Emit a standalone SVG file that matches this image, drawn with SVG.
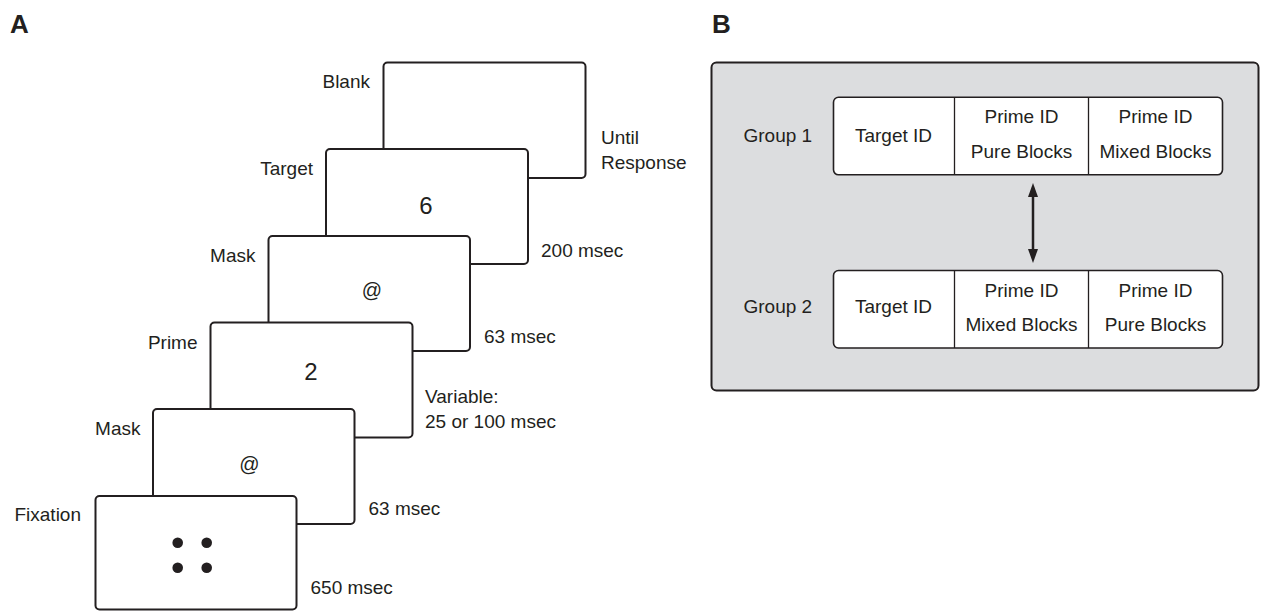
<svg xmlns="http://www.w3.org/2000/svg" width="1261" height="611" viewBox="0 0 1261 611">
<style>
.bg{fill:#ffffff}
.box{fill:#ffffff;stroke:#231f20;stroke-width:2}
.panel{fill:#dcdddf;stroke:#231f20;stroke-width:2}
.row{fill:#ffffff;stroke:#231f20;stroke-width:1.6}
.div{stroke:#231f20;stroke-width:1.3}
.t{font-family:"Liberation Sans",Arial,sans-serif;font-size:19px;fill:#231f20}
.big{font-size:24px}
.at{font-size:20px}
.hd{font-family:"Liberation Sans",Arial,sans-serif;font-size:26px;font-weight:bold;fill:#231f20}
.c{text-anchor:middle}
.e{text-anchor:end}
.dot{fill:#231f20}
.arr{stroke:#231f20;stroke-width:2.5;fill:none}
</style>
<defs>
<marker id="ah" viewBox="0 0 14 10" refX="0" refY="5" markerWidth="14" markerHeight="10" markerUnits="userSpaceOnUse" orient="auto-start-reverse">
<path d="M0,0 L14,5 L0,10 z" fill="#231f20"/>
</marker>
</defs>
<rect class="bg" x="0" y="0" width="1261" height="611"/>

<text class="hd" x="10" y="33">A</text>
<text class="hd" x="712" y="33">B</text>

<!-- Panel A: trial sequence, back to front -->
<g id="blank">
<rect class="box" x="383.5" y="62.5" width="202" height="115.5" rx="4"/>
<text class="t e" x="370" y="88">Blank</text>
<text class="t" x="601" y="144">Until</text>
<text class="t" x="601" y="169">Response</text>
</g>
<g id="target">
<rect class="box" x="326" y="149" width="202" height="115" rx="4"/>
<text class="t e" x="313" y="175">Target</text>
<text class="t big c" x="426" y="214">6</text>
<text class="t" x="541" y="257">200 msec</text>
</g>
<g id="mask1">
<rect class="box" x="268.5" y="236" width="201.5" height="115" rx="4"/>
<text class="t e" x="255.5" y="262">Mask</text>
<text class="t at c" x="372" y="296.5">@</text>
<text class="t" x="484" y="343">63 msec</text>
</g>
<g id="prime">
<rect class="box" x="210.5" y="322.5" width="202" height="115" rx="4"/>
<text class="t e" x="197.5" y="348.5">Prime</text>
<text class="t big c" x="311" y="380">2</text>
<text class="t" x="425" y="403">Variable:</text>
<text class="t" x="425" y="428">25 or 100 msec</text>
</g>
<g id="mask2">
<rect class="box" x="153" y="409" width="201.5" height="115" rx="4"/>
<text class="t e" x="140.5" y="434.5">Mask</text>
<text class="t at c" x="249.5" y="470.5">@</text>
<text class="t" x="368.5" y="515">63 msec</text>
</g>
<g id="fixation">
<rect class="box" x="95.5" y="496" width="201" height="113.5" rx="4"/>
<text class="t e" x="81" y="521">Fixation</text>
<circle class="dot" cx="177.7" cy="542.7" r="5.3"/>
<circle class="dot" cx="206.7" cy="542.7" r="5.3"/>
<circle class="dot" cx="177.7" cy="567.7" r="5.3"/>
<circle class="dot" cx="206.7" cy="567.7" r="5.3"/>
<text class="t" x="310.5" y="594">650 msec</text>
</g>

<!-- Panel B -->
<g id="panelB">
<rect class="panel" x="711.5" y="62.5" width="547" height="328" rx="5"/>
</g>
<g id="group1">
<text class="t" x="743.5" y="141.7">Group 1</text>
<rect class="row" x="833.5" y="97.3" width="389" height="77.5" rx="5"/>
<line class="div" x1="954.5" y1="97.3" x2="954.5" y2="174.8"/>
<line class="div" x1="1088.5" y1="97.3" x2="1088.5" y2="174.8"/>
<text class="t c" x="893.5" y="141.7">Target ID</text>
<text class="t c" x="1021.5" y="123.3">Prime ID</text>
<text class="t c" x="1021.5" y="157.7">Pure Blocks</text>
<text class="t c" x="1155.5" y="123.3">Prime ID</text>
<text class="t c" x="1155.5" y="157.7">Mixed Blocks</text>
</g>
<g id="group2">
<text class="t" x="743.5" y="312.7">Group 2</text>
<rect class="row" x="833.5" y="270.5" width="389" height="77.5" rx="5"/>
<line class="div" x1="954.5" y1="270.5" x2="954.5" y2="348"/>
<line class="div" x1="1088.5" y1="270.5" x2="1088.5" y2="348"/>
<text class="t c" x="893.5" y="312.7">Target ID</text>
<text class="t c" x="1021.5" y="296.5">Prime ID</text>
<text class="t c" x="1021.5" y="330.8">Mixed Blocks</text>
<text class="t c" x="1155.5" y="296.5">Prime ID</text>
<text class="t c" x="1155.5" y="330.8">Pure Blocks</text>
</g>
<g id="connectors">
<line class="arr" x1="1033" y1="197" x2="1033" y2="249" marker-start="url(#ah)" marker-end="url(#ah)"/>
</g>
</svg>
